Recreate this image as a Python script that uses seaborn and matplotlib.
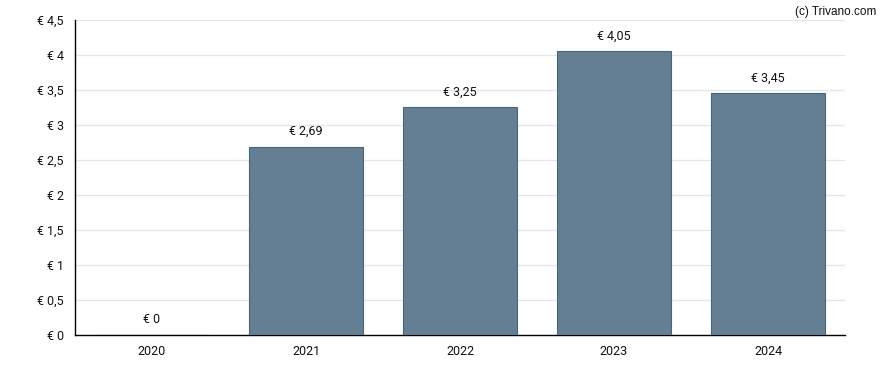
import matplotlib
matplotlib.use("Agg")
import matplotlib.pyplot as plt
import seaborn as sns
import pandas as pd

years = ["2020", "2021", "2022", "2023", "2024"]
values = [0, 2.69, 3.25, 4.05, 3.45]
y_ticks = [0, 0.5, 1, 1.5, 2, 2.5, 3, 3.5, 4, 4.5]


def euro(v):
    s = ("%.2f" % v).rstrip("0").rstrip(".")
    return "€ " + s.replace(".", ",")


sns.set_style("white")
plt.rcParams["font.family"] = ["Roboto", "DejaVu Sans"]

df = pd.DataFrame({"year": years, "value": values})

fig = plt.figure(figsize=(8.88, 3.70), dpi=100)
ax = fig.add_axes([0.0845, 0.0946, 0.8671, 0.8514])

sns.barplot(data=df, x="year", y="value", color="#647f93", saturation=1,
            width=0.74, edgecolor="#4a6478", linewidth=0.8, ax=ax, zorder=3)

for i, v in enumerate(values):
    ax.annotate(euro(v), (i, v), xytext=(0, 6.5), textcoords="offset points",
                ha="center", va="bottom", fontsize=9, color="#111111")

ax.set_ylim(0, 4.5)
ax.set_xlim(-0.5, 4.5)
ax.set_yticks(y_ticks)
ax.set_yticklabels([euro(t) for t in y_ticks])
ax.yaxis.grid(True, color="#e6e6e6", linewidth=0.9, zorder=0)
ax.set_axisbelow(True)
ax.set_xlabel("")
ax.set_ylabel("")
for side in ["top", "right"]:
    ax.spines[side].set_visible(False)
for side in ["left", "bottom"]:
    ax.spines[side].set_color("black")
    ax.spines[side].set_linewidth(1.0)
ax.tick_params(axis="both", direction="out", length=4, width=0.8, color="black",
               labelsize=9, labelcolor="#111111", pad=4)
ax.tick_params(axis="x", pad=3)

fig.text(0.987, 0.985, "(c) Trivano.com", ha="right", va="top",
         fontsize=8.5, family=["Liberation Sans", "DejaVu Sans"], color="#111111")

fig.savefig("out.png", dpi=100)
